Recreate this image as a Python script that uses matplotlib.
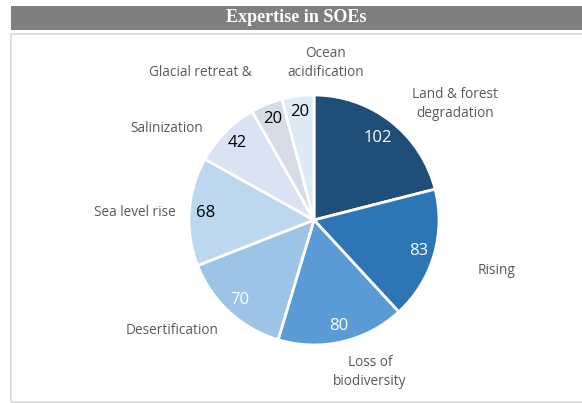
import numpy as np
import matplotlib.pyplot as plt
from matplotlib.patches import Rectangle

# data
categories = ["Land & forest\ndegradation", "Rising", "Loss of\nbiodiversity",
              "Desertification", "Sea level rise", "Salinization",
              "Glacial retreat &", "Ocean\nacidification"]
values = [102, 83, 80, 70, 68, 42, 20, 20]
colors = ["#1F4E79", "#2E75B6", "#5B9BD5", "#9DC3E6", "#BDD7EE", "#DAE3F3",
          "#D6DCE5", "#DEEBF7"]
value_colors = ["white", "white", "white", "white", "black", "black", "black", "black"]
# label centres in pixels (x, y from top)
label_pos = [(455, 104), (497, 270), (370, 372), (172, 330), (135, 212),
             (167, 128), (200, 73), (326, 63)]

W, H = 582, 403
fig = plt.figure(figsize=(W / 100, H / 100), dpi=100)

# title bar and frame (frame runs past the right edge, as in the reference)
fig.patches.append(Rectangle((11 / W, 1 - 30 / H), 1 - 11 / W, 24 / H,
                             transform=fig.transFigure, facecolor="#7F7F7F",
                             edgecolor="none"))
fig.patches.append(Rectangle((11 / W, 1 / H), 1 - 5 / W, (401 - 33) / H,
                             transform=fig.transFigure, facecolor="none",
                             edgecolor="#D9D9D9", linewidth=1.2))
fig.text((11 + W) / 2 / W, 1 - 18 / H, "Expertise in SOEs", color="white",
         fontsize=13, fontweight="bold", family="Liberation Serif",
         ha="center", va="center")

# pie
cx, cy, r = 314, 220, 125
ax = fig.add_axes([(cx - r) / W, (H - cy - r) / H, 2 * r / W, 2 * r / H])
wedges, _ = ax.pie(values, colors=colors, startangle=90, counterclock=False,
                   wedgeprops=dict(edgecolor="white", linewidth=2))
ax.set_xlim(-1, 1)
ax.set_ylim(-1, 1)
ax.set_aspect("equal")
ax.axis("off")

for w, v, c in zip(wedges, values, value_colors):
    ang = np.deg2rad((w.theta1 + w.theta2) / 2)
    d = 0.83 if v > 100 else 0.87
    ax.text(d * np.cos(ang), d * np.sin(ang), str(v), color=c,
            fontsize=12, ha="center", va="center", family="Open Sans")

for lab, (px, py) in zip(categories, label_pos):
    fig.text(px / W, 1 - py / H, lab, color="#595959", fontsize=9.8,
             ha="center", va="center", linespacing=1.4, family="Open Sans")

fig.savefig("out.png", dpi=100)
